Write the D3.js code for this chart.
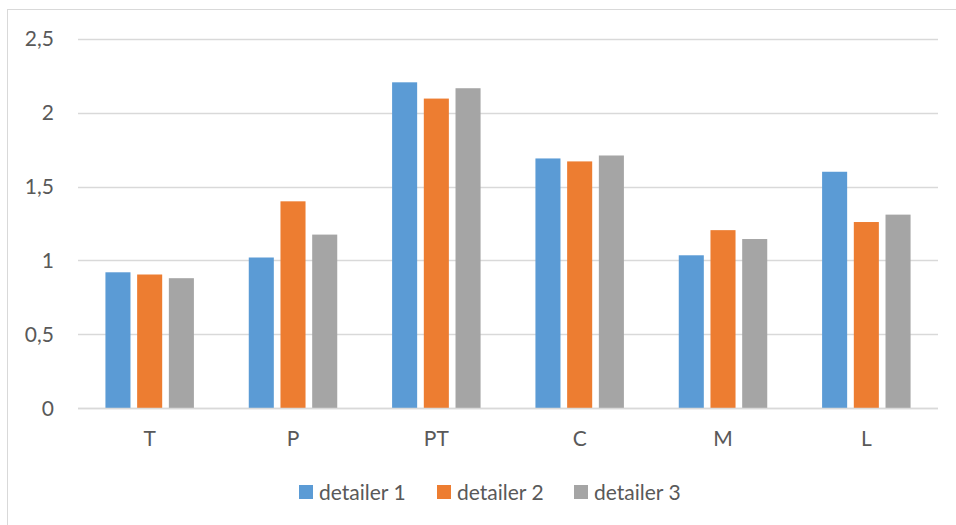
<!DOCTYPE html>
<html>
<head>
<meta charset="utf-8">
<script src="https://cdn.jsdelivr.net/npm/d3@7"></script>
<style>
  html, body { margin: 0; padding: 0; background: #fff; }
  svg { display: block; }
  text { font-family: Lato, "Open Sans", sans-serif; fill: #595959; }
</style>
</head>
<body>
<svg id="chart" width="956" height="525"></svg>
<script>
// Categories along the x axis
const categories = ["T", "P", "PT", "C", "M", "L"];

// Series names and their values per category
const seriesNames = ["detailer 1", "detailer 2", "detailer 3"];
const detailer1 = [0.92, 1.02, 2.205, 1.69, 1.035, 1.60];
const detailer2 = [0.905, 1.40, 2.095, 1.67, 1.205, 1.26];
const detailer3 = [0.88, 1.175, 2.165, 1.71, 1.145, 1.31];
const seriesValues = [detailer1, detailer2, detailer3];

// Y axis ticks and their labels
const yTicks = [0, 0.5, 1, 1.5, 2, 2.5];
const yTickLabels = ["0", "0,5", "1", "1,5", "2", "2,5"];

const colors = ["#5B9BD5", "#ED7D31", "#A5A5A5"];

const svg = d3.select("#chart");
const W = 956, H = 525;
const plot = { left: 78, right: 938, top: 38.7, bottom: 408.3 };

// Outer chart frame
svg.append("rect")
  .attr("x", 7.5).attr("y", 9.5)
  .attr("width", W).attr("height", H)
  .attr("fill", "none").attr("stroke", "#D9D9D9").attr("stroke-width", 1);

const x = d3.scaleBand().domain(categories).range([plot.left, plot.right]).paddingInner(0).paddingOuter(0);
const xs = d3.scaleBand().domain(d3.range(seriesNames.length)).range([0, x.bandwidth()])
  .paddingInner(0.21).paddingOuter(0.865);
const y = d3.scaleLinear().domain([0, 2.5]).range([plot.bottom, plot.top]);

// Horizontal gridlines
svg.append("g").selectAll("line").data(yTicks).join("line")
  .attr("x1", plot.left).attr("x2", plot.right)
  .attr("y1", d => Math.round(y(d)) + 0.5).attr("y2", d => Math.round(y(d)) + 0.5)
  .attr("stroke", "#D9D9D9").attr("stroke-width", 1.3);

// Y tick labels
svg.append("g").selectAll("text").data(yTicks).join("text")
  .attr("x", 54).attr("y", d => y(d))
  .attr("dy", "0.36em")
  .attr("text-anchor", "end")
  .attr("font-size", 21)
  .text((d, i) => yTickLabels[i]);

// Bars
const rows = categories.map((c, ci) => ({ c, vals: seriesValues.map(s => s[ci]) }));
const groups = svg.append("g").selectAll("g").data(rows).join("g")
  .attr("transform", d => `translate(${x(d.c)},0)`);
groups.selectAll("rect").data(d => d.vals.map((v, si) => ({ v, si }))).join("rect")
  .attr("x", d => xs(d.si))
  .attr("y", d => y(d.v))
  .attr("width", xs.bandwidth())
  .attr("height", d => y(0) - y(d.v))
  .attr("fill", d => colors[d.si]);

// Zero line drawn over the bar bases
svg.append("line")
  .attr("x1", plot.left).attr("x2", plot.right)
  .attr("y1", Math.round(y(0)) + 0.5).attr("y2", Math.round(y(0)) + 0.5)
  .attr("stroke", "#D9D9D9").attr("stroke-width", 1.3);

// Category labels
svg.append("g").selectAll("text").data(categories).join("text")
  .attr("x", d => x(d) + x.bandwidth() / 2)
  .attr("y", 438)
  .attr("dy", "0.36em")
  .attr("text-anchor", "middle")
  .attr("font-size", 21)
  .text(d => d);

// Legend
const legendX = [299, 437, 574];
const legend = svg.append("g").selectAll("g").data(seriesNames).join("g")
  .attr("transform", (d, i) => `translate(${legendX[i]},492)`);
legend.append("rect")
  .attr("x", 0).attr("y", -7).attr("width", 14).attr("height", 14)
  .attr("fill", (d, i) => colors[i]);
legend.append("text")
  .attr("x", 20).attr("y", 0).attr("dy", "0.36em")
  .attr("font-size", 21)
  .text(d => d);
</script>
</body>
</html>
